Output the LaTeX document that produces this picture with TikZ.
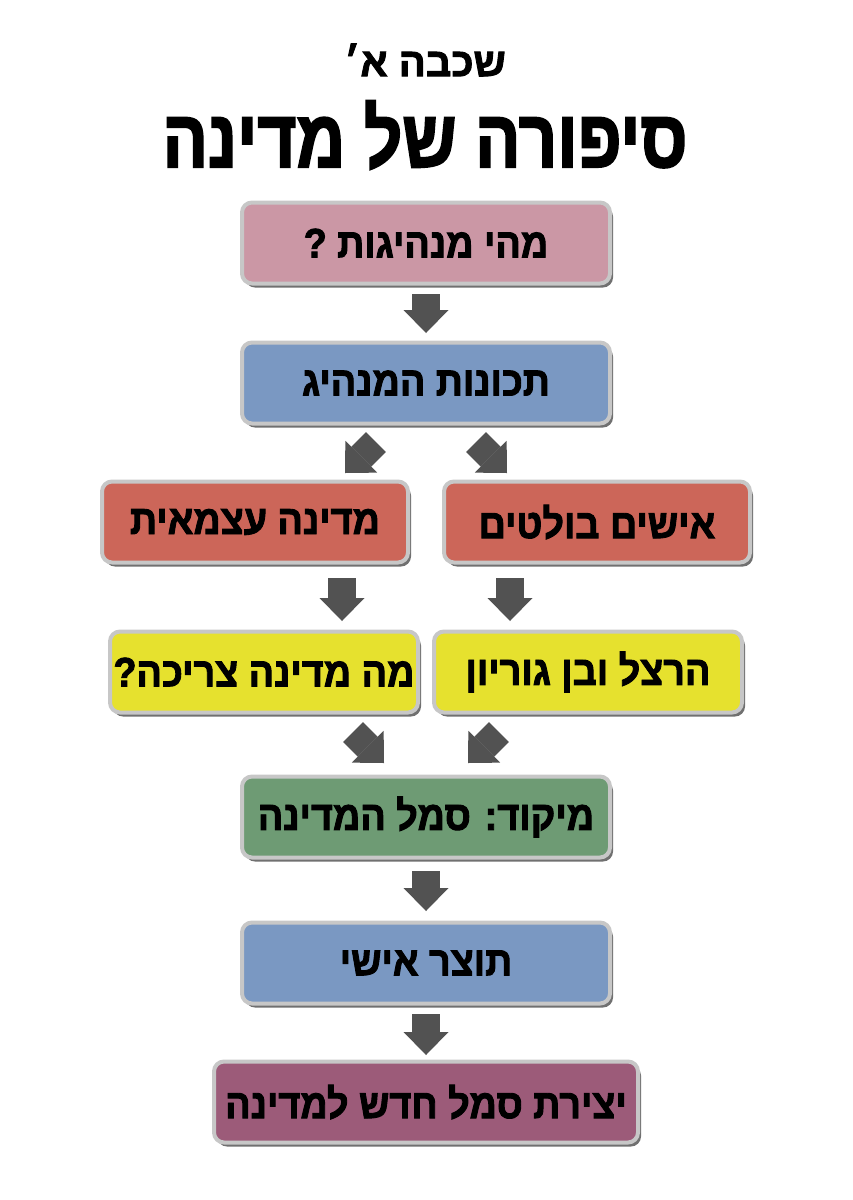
\documentclass[tikz,border=0pt]{standalone}
\usepackage{xcolor}
\usepackage{fontspec}
\usepackage{tikz}
\usetikzlibrary{arrows.meta,shadows}
\TeXXeTstate=1
\newfontfamily\hebfont[Script=Hebrew,FakeStretch=0.92,BoldFeatures={FakeBold=2.2}]{Liberation Sans}
\newfontfamily\titlefont[Script=Hebrew,FakeStretch=0.82,BoldFeatures={FakeBold=2.2}]{Liberation Sans}
\newfontfamily\gradefont[Script=Hebrew,BoldFeatures={FakeBold=2.2}]{Liberation Sans}
\definecolor{askfill}{rgb}{0.796,   0.592,   0.647}
\definecolor{traitfill}{rgb}{0.478,   0.596,   0.761}
\definecolor{statefill}{rgb}{0.800,   0.400,   0.349}
\definecolor{leaderfill}{rgb}{0.902,   0.882,   0.180}
\definecolor{focusfill}{rgb}{0.431,   0.608,   0.455}
\definecolor{symbolfill}{rgb}{0.612,   0.357,   0.475}
\definecolor{stageline}{rgb}{0.780,   0.780,   0.780}
\definecolor{flowgray}{rgb}{0.322,   0.322,   0.322}

\begin{document}
\begin{tikzpicture}[x=0.5pt,y=-0.5pt]
\tikzset{stage/.style={rounded corners=5pt, draw=stageline, line width=2pt, minimum width=184pt, minimum height=40.5pt, inner sep=0pt,
 drop shadow={shadow xshift=1.5pt, shadow yshift=-2pt, fill=black!75, opacity=0.75},
 font=\hebfont\bfseries\fontsize{20.5pt}{20.5pt}\selectfont},
 flow/.style={draw=flowgray, line width=14pt, -{Triangle[width=22.5pt,length=11.5pt,line width=0pt]}}}
\useasboundingbox (0,0) rectangle (852,1200);

% titles
\node (grade) at (425,60) {\gradefont\bfseries\fontsize{20pt}{20pt}\selectfont\beginR שכבה א׳\endR};
\node (story) at (425,135) {\titlefont\bfseries\fontsize{41pt}{41pt}\selectfont\beginR סיפורה של מדינה\endR};

% stages
\node (q1) at (426,243) [stage, fill=askfill] {\beginR מהי מנהיגות ?\endR};
\node (q2) at (426,383) [stage, fill=traitfill] {\beginR תכונות המנהיג\endR};
\node (q3l) at (255,522) [stage, fill=statefill, minimum width=153pt] {\beginR מדינה עצמאית\endR};
\node (q3r) at (597,522) [stage, fill=statefill, minimum width=153pt] {\beginR אישים בולטים\endR};
\node (q4l) at (264,672) [stage, fill=leaderfill, minimum width=154pt] {\beginR מה מדינה צריכה?\endR};
\node (q4r) at (588,672) [stage, fill=leaderfill, minimum width=154pt] {\beginR הרצל ובן גוריון\endR};
\node (q5) at (426,817) [stage, fill=focusfill] {\beginR מיקוד: סמל המדינה\endR};
\node (q6) at (426,963) [stage, fill=traitfill] {\beginR תוצר אישי\endR};
\node (q7) at (426,1102) [stage, fill=symbolfill, minimum width=212pt] {\beginR יצירת סמל חדש למדינה\endR};

% arrow ends
\coordinate (s2l) at (376,442); \coordinate (e2l) at (345,473);
\coordinate (s2r) at (476,442); \coordinate (e2r) at (507,473);
\coordinate (s3l) at (342,578); \coordinate (e3l) at (342,621);
\coordinate (s3r) at (510,578); \coordinate (e3r) at (510,621);
\coordinate (s4l) at (353,732); \coordinate (e4l) at (384,763);
\coordinate (s4r) at (499,732); \coordinate (e4r) at (468,763);

\draw[flow, shorten <=4.25pt, shorten >=3.75pt] (q1) -- (q2);
\draw[flow] (s2l) -- (e2l);
\draw[flow] (s2r) -- (e2r);
\draw[flow] (s3l) -- (e3l);
\draw[flow] (s3r) -- (e3r);
\draw[flow] (s4l) -- (e4l);
\draw[flow] (s4r) -- (e4r);
\draw[flow, shorten <=5.75pt, shorten >=4.75pt] (q5) -- (q6);
\draw[flow, shorten <=4.25pt, shorten >=2.25pt] (q6) -- (q7);

\end{tikzpicture}
\end{document}
